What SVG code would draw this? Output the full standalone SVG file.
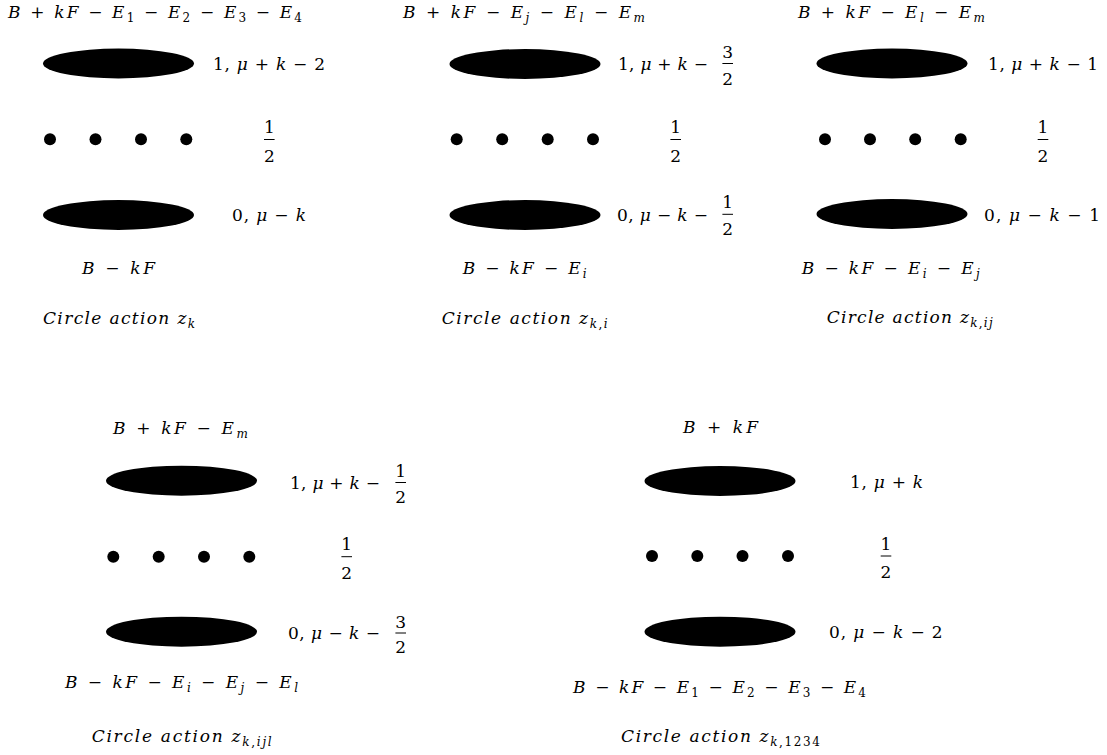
<svg xmlns="http://www.w3.org/2000/svg" width="1107" height="755" viewBox="0 0 1107 755">
<style>
text{font-family:'DejaVu Serif',serif;font-size:17px;fill:#000}
.i{font-style:italic}
.u{font-style:normal}
.s{font-size:12px}
.fr{text-anchor:middle}
.cap{font-style:italic}
ellipse,circle{fill:#000}
.bar{stroke:#000;stroke-width:1}
</style>
<rect width="1107" height="755" fill="#fff"/>
<g id="connectors"/>

<!-- Panel 1 -->
<g id="panel-zk">
  <text x="8" y="17.5" textLength="294" lengthAdjust="spacing"><tspan class="i">B</tspan> + <tspan class="i">kF</tspan> − <tspan class="i">E</tspan><tspan class="s" dy="4">1</tspan><tspan dy="-4"> − </tspan><tspan class="i">E</tspan><tspan class="s" dy="4">2</tspan><tspan dy="-4"> − </tspan><tspan class="i">E</tspan><tspan class="s" dy="4">3</tspan><tspan dy="-4"> − </tspan><tspan class="i">E</tspan><tspan class="s" dy="4">4</tspan></text>
  <g id="p1-top">
    <ellipse cx="118.5" cy="63.5" rx="75.5" ry="15"/>
    <text x="213" y="70" textLength="112" lengthAdjust="spacing">1, <tspan class="i">μ</tspan> + <tspan class="i">k</tspan> − 2</text>
  </g>
  <g id="p1-dots">
    <circle cx="50" cy="139.3" r="6"/><circle cx="95.5" cy="139.3" r="6"/><circle cx="141" cy="139.3" r="6"/><circle cx="186.3" cy="139.3" r="6"/>
    <text class="fr" x="269.3" y="132.5">1</text><line class="bar" x1="264" y1="139.5" x2="274.6" y2="139.5"/><text class="fr" x="269.3" y="162">2</text>
  </g>
  <g id="p1-bottom">
    <ellipse cx="118.5" cy="215" rx="75.5" ry="15"/>
    <text x="232" y="221" textLength="74" lengthAdjust="spacing">0, <tspan class="i">μ</tspan> − <tspan class="i">k</tspan></text>
  </g>
  <text x="82" y="274" textLength="73" lengthAdjust="spacing"><tspan class="i">B</tspan> − <tspan class="i">kF</tspan></text>
  <text class="cap" x="43" y="324" textLength="152" lengthAdjust="spacing">Circle action z<tspan class="s" dy="4">k</tspan></text>
</g>

<!-- Panel 2 -->
<g id="panel-zki">
  <text x="403" y="17.5" textLength="242" lengthAdjust="spacing"><tspan class="i">B</tspan> + <tspan class="i">kF</tspan> − <tspan class="i">E</tspan><tspan class="s i" dy="4">j</tspan><tspan dy="-4"> − </tspan><tspan class="i">E</tspan><tspan class="s i" dy="4">l</tspan><tspan dy="-4"> − </tspan><tspan class="i">E</tspan><tspan class="s i" dy="4">m</tspan></text>
  <g id="p2-top">
    <ellipse cx="525" cy="64" rx="75.5" ry="15"/>
    <text x="618" y="70" textLength="90" lengthAdjust="spacing">1, <tspan class="i">μ</tspan> + <tspan class="i">k</tspan> −</text>
    <text class="fr" x="727.7" y="57.5">3</text><line class="bar" x1="722.4" y1="63.5" x2="733" y2="63.5"/><text class="fr" x="727.7" y="85">2</text>
  </g>
  <g id="p2-dots">
    <circle cx="456.7" cy="139.3" r="6"/><circle cx="502.2" cy="139.3" r="6"/><circle cx="547.7" cy="139.3" r="6"/><circle cx="593" cy="139.3" r="6"/>
    <text class="fr" x="675.7" y="132.5">1</text><line class="bar" x1="670.4" y1="139.5" x2="681" y2="139.5"/><text class="fr" x="675.7" y="162">2</text>
  </g>
  <g id="p2-bottom">
    <ellipse cx="525" cy="215" rx="75.5" ry="15"/>
    <text x="617" y="220.7" textLength="91" lengthAdjust="spacing">0, <tspan class="i">μ</tspan> − <tspan class="i">k</tspan> −</text>
    <text class="fr" x="727.7" y="208">1</text><line class="bar" x1="722.4" y1="214.3" x2="733" y2="214.3"/><text class="fr" x="727.7" y="235">2</text>
  </g>
  <text x="462.7" y="274" textLength="124" lengthAdjust="spacing"><tspan class="i">B</tspan> − <tspan class="i">kF</tspan> − <tspan class="i">E</tspan><tspan class="s i" dy="4">i</tspan></text>
  <text class="cap" x="441.7" y="324" textLength="166" lengthAdjust="spacing">Circle action z<tspan class="s" dy="4">k<tspan class="u">,</tspan>i</tspan></text>
</g>

<!-- Panel 3 -->
<g id="panel-zkij">
  <text x="798" y="17.5" textLength="187" lengthAdjust="spacing"><tspan class="i">B</tspan> + <tspan class="i">kF</tspan> − <tspan class="i">E</tspan><tspan class="s i" dy="4">l</tspan><tspan dy="-4"> − </tspan><tspan class="i">E</tspan><tspan class="s i" dy="4">m</tspan></text>
  <g id="p3-top">
    <ellipse cx="892" cy="63.5" rx="75.5" ry="15"/>
    <text x="988" y="70" textLength="110" lengthAdjust="spacing">1, <tspan class="i">μ</tspan> + <tspan class="i">k</tspan> − 1</text>
  </g>
  <g id="p3-dots">
    <circle cx="825" cy="139.3" r="6"/><circle cx="870" cy="139.3" r="6"/><circle cx="915.2" cy="139.3" r="6"/><circle cx="960.7" cy="139.3" r="6"/>
    <text class="fr" x="1043" y="132.5">1</text><line class="bar" x1="1037.7" y1="139.5" x2="1048.3" y2="139.5"/><text class="fr" x="1043" y="162">2</text>
  </g>
  <g id="p3-bottom">
    <ellipse cx="892" cy="214" rx="75.5" ry="15"/>
    <text x="984" y="220.5" textLength="116" lengthAdjust="spacing">0, <tspan class="i">μ</tspan> − <tspan class="i">k</tspan> − 1</text>
  </g>
  <text x="801.7" y="274" textLength="178" lengthAdjust="spacing"><tspan class="i">B</tspan> − <tspan class="i">kF</tspan> − <tspan class="i">E</tspan><tspan class="s i" dy="4">i</tspan><tspan dy="-4"> − </tspan><tspan class="i">E</tspan><tspan class="s i" dy="4">j</tspan></text>
  <text class="cap" x="826.7" y="323" textLength="166" lengthAdjust="spacing">Circle action z<tspan class="s" dy="4">k<tspan class="u">,</tspan>ij</tspan></text>
</g>

<!-- Panel 4 -->
<g id="panel-zkijl">
  <text x="113" y="434" textLength="135" lengthAdjust="spacing"><tspan class="i">B</tspan> + <tspan class="i">kF</tspan> − <tspan class="i">E</tspan><tspan class="s i" dy="4">m</tspan></text>
  <g id="p4-top">
    <ellipse cx="181.5" cy="480.7" rx="75.5" ry="15"/>
    <text x="290" y="489" textLength="90" lengthAdjust="spacing">1, <tspan class="i">μ</tspan> + <tspan class="i">k</tspan> −</text>
    <text class="fr" x="400.7" y="476.5">1</text><line class="bar" x1="395.4" y1="482.5" x2="406" y2="482.5"/><text class="fr" x="400.7" y="503">2</text>
  </g>
  <g id="p4-dots">
    <circle cx="113.3" cy="556.7" r="6"/><circle cx="158.7" cy="556.7" r="6"/><circle cx="204" cy="556.7" r="6"/><circle cx="249.3" cy="556.7" r="6"/>
    <text class="fr" x="346.7" y="550">1</text><line class="bar" x1="341.4" y1="556.7" x2="352" y2="556.7"/><text class="fr" x="346.7" y="578.5">2</text>
  </g>
  <g id="p4-bottom">
    <ellipse cx="181.5" cy="631.7" rx="75.5" ry="15"/>
    <text x="288" y="638.5" textLength="92" lengthAdjust="spacing">0, <tspan class="i">μ</tspan> − <tspan class="i">k</tspan> −</text>
    <text class="fr" x="400.7" y="627.5">3</text><line class="bar" x1="395.4" y1="633" x2="406" y2="633"/><text class="fr" x="400.7" y="653">2</text>
  </g>
  <text x="65" y="688.3" textLength="233" lengthAdjust="spacing"><tspan class="i">B</tspan> − <tspan class="i">kF</tspan> − <tspan class="i">E</tspan><tspan class="s i" dy="4">i</tspan><tspan dy="-4"> − </tspan><tspan class="i">E</tspan><tspan class="s i" dy="4">j</tspan><tspan dy="-4"> − </tspan><tspan class="i">E</tspan><tspan class="s i" dy="4">l</tspan></text>
  <text class="cap" x="91.7" y="741.7" textLength="180" lengthAdjust="spacing">Circle action z<tspan class="s" dy="4">k<tspan class="u">,</tspan>ijl</tspan></text>
</g>

<!-- Panel 5 -->
<g id="panel-zk1234">
  <text x="683" y="433" textLength="75" lengthAdjust="spacing"><tspan class="i">B</tspan> + <tspan class="i">kF</tspan></text>
  <g id="p5-top">
    <ellipse cx="720" cy="481" rx="75.5" ry="15"/>
    <text x="850" y="487.5" textLength="73" lengthAdjust="spacing">1, <tspan class="i">μ</tspan> + <tspan class="i">k</tspan></text>
  </g>
  <g id="p5-dots">
    <circle cx="652" cy="556" r="6"/><circle cx="697.3" cy="556" r="6"/><circle cx="742.5" cy="556" r="6"/><circle cx="788" cy="556" r="6"/>
    <text class="fr" x="886" y="549.5">1</text><line class="bar" x1="880.7" y1="556" x2="891.3" y2="556"/><text class="fr" x="886" y="578">2</text>
  </g>
  <g id="p5-bottom">
    <ellipse cx="720" cy="631.7" rx="75.5" ry="15"/>
    <text x="829" y="638" textLength="113.7" lengthAdjust="spacing">0, <tspan class="i">μ</tspan> − <tspan class="i">k</tspan> − 2</text>
  </g>
  <text x="573" y="692.7" textLength="293" lengthAdjust="spacing"><tspan class="i">B</tspan> − <tspan class="i">kF</tspan> − <tspan class="i">E</tspan><tspan class="s" dy="4">1</tspan><tspan dy="-4"> − </tspan><tspan class="i">E</tspan><tspan class="s" dy="4">2</tspan><tspan dy="-4"> − </tspan><tspan class="i">E</tspan><tspan class="s" dy="4">3</tspan><tspan dy="-4"> − </tspan><tspan class="i">E</tspan><tspan class="s" dy="4">4</tspan></text>
  <text class="cap" x="621" y="741.7" textLength="199" lengthAdjust="spacing">Circle action z<tspan class="s" dy="4">k<tspan class="u">,1234</tspan></tspan></text>
</g>
</svg>
